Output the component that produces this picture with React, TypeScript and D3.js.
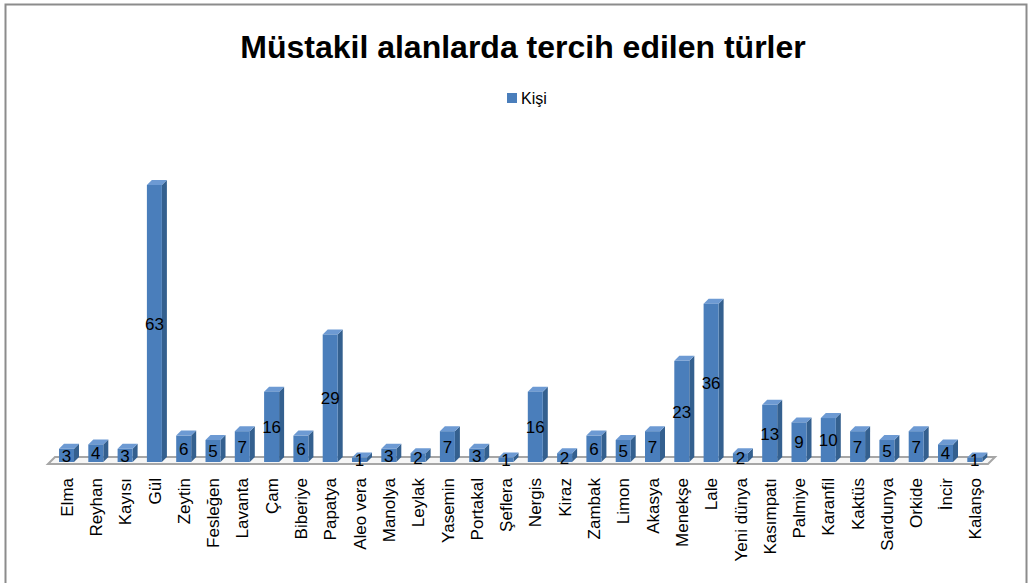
import React, { useRef, useEffect } from "react";
import * as d3 from "d3";

// chart data
const categories = [
  "Elma", "Reyhan", "Kayısı", "Gül", "Zeytin", "Fesleğen", "Lavanta", "Çam",
  "Biberiye", "Papatya", "Aleo vera", "Manolya", "Leylak", "Yasemin", "Portakal",
  "Şeflera", "Nergis", "Kiraz", "Zambak", "Limon", "Akasya", "Menekşe", "Lale",
  "Yeni dünya", "Kasımpatı", "Palmiye", "Karanfil", "Kaktüs", "Sardunya", "Orkide",
  "İncir", "Kalanşo",
];
const kisi = [
  3, 4, 3, 63, 6, 5, 7, 16, 6, 29, 1, 3, 2, 7, 3, 1, 16, 2, 6, 5, 7, 23, 36, 2,
  13, 9, 10, 7, 5, 7, 4, 1,
];
const seriesName = "Kişi";
const title = "Müstakil alanlarda tercih edilen türler";

function App() {
  const svgRef = useRef<SVGSVGElement>(null);

  useEffect(() => {
    const w = 1029;
    const h = 583;
    const svg = d3.select(svgRef.current).attr("width", w).attr("height", h);
    svg.selectAll("*").remove();

    const font = "'Liberation Sans', Arial, sans-serif";
    const base = 462;
    const dx = 5;
    const dy = 5;
    const barW = 15;

    // scales
    const x = d3.scaleBand<string>()
      .domain(categories)
      .range([51, 51 + categories.length * 29.3]);
    const y = d3.scaleLinear().domain([0, 63]).range([base, 185]);

    // frame
    svg.append("rect")
      .attr("x", 5.5).attr("y", 4.5)
      .attr("width", 1021).attr("height", 600)
      .attr("fill", "#fff")
      .attr("stroke", "#8c8c8c")
      .attr("stroke-width", 2);

    // title
    svg.append("text")
      .attr("x", 523).attr("y", 58)
      .attr("text-anchor", "middle")
      .attr("font-family", font)
      .attr("font-weight", "bold")
      .attr("font-size", 32)
      .text(title);

    // legend
    svg.append("rect")
      .attr("x", 507).attr("y", 93)
      .attr("width", 10).attr("height", 10)
      .attr("fill", "#4a7ebb");
    svg.append("text")
      .attr("x", 521).attr("y", 104)
      .attr("font-family", font)
      .attr("font-size", 16)
      .text(seriesName);

    // floor
    const x0 = 48;
    const x1 = 988;
    svg.append("polygon")
      .attr("points", `${x0},${base + 2} ${x1},${base + 2} ${x1 + 7},${base - 5} ${x0 + 7},${base - 5}`)
      .attr("fill", "#f6f6f6")
      .attr("stroke", "#a6a6a6")
      .attr("stroke-width", 2);

    // bars
    const g = svg.append("g");
    categories.forEach((c, i) => {
      const fx = (x(c) as number) + 8;
      const ty = y(kisi[i]);
      g.append("polygon")
        .attr("points", `${fx + barW},${ty} ${fx + barW + dx},${ty - dy} ${fx + barW + dx},${base - dy} ${fx + barW},${base}`)
        .attr("fill", "#34608f");
      g.append("polygon")
        .attr("points", `${fx},${ty} ${fx + dx},${ty - dy} ${fx + barW + dx},${ty - dy} ${fx + barW},${ty}`)
        .attr("fill", "#6d9ad3");
      g.append("rect")
        .attr("x", fx).attr("y", ty)
        .attr("width", barW).attr("height", base - ty)
        .attr("fill", "#4a7ebb");
    });

    // value labels
    svg.selectAll(".val")
      .data(kisi)
      .join("text")
      .attr("class", "val")
      .attr("x", (d, i) => (x(categories[i]) as number) + 8 + barW / 2)
      .attr("y", (d) => (base + y(d)) / 2)
      .attr("dy", "0.36em")
      .attr("text-anchor", "middle")
      .attr("font-family", font)
      .attr("font-size", 17)
      .attr("fill", "#000")
      .text((d) => d);

    // category labels
    svg.selectAll(".cat")
      .data(categories)
      .join("text")
      .attr("class", "cat")
      .attr("transform", (d) => `translate(${(x(d) as number) + 8 + barW / 2},478) rotate(-90)`)
      .attr("dy", "0.36em")
      .attr("text-anchor", "end")
      .attr("font-family", font)
      .attr("font-size", 17)
      .attr("fill", "#000")
      .text((d) => d);
  }, []);

  return (
    <div style={{ position: "absolute", left: 0, top: 0 }}>
      <svg ref={svgRef} style={{ display: "block" }}></svg>
    </div>
  );
}

export default App;
